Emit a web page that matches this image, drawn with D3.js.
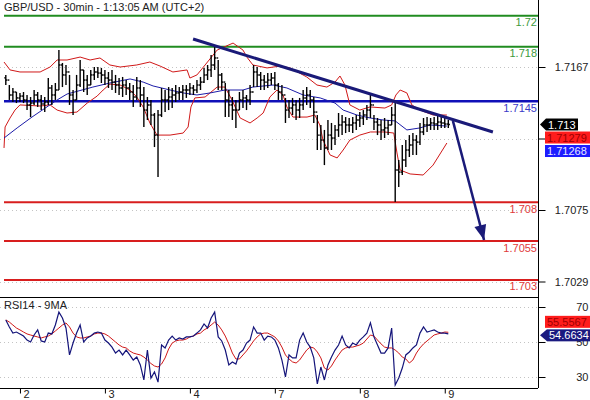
<!DOCTYPE html>
<html>
<head>
<meta charset="utf-8">
<script src="https://cdn.jsdelivr.net/npm/d3@7"></script>
<style>
body { margin: 0; background: #fff; }
text { font-family: "Liberation Sans", Arial, sans-serif; font-size: 11px; }
</style>
</head>
<body>
<div id="chart"></div>
<script>
// GBP/USD 30min bars
const highs = [1.71619,1.71554,1.71535,1.71509,1.71503,1.71509,1.71490,1.71477,1.71522,1.71509,
1.71490,1.71477,1.71599,1.71554,1.71567,1.71779,1.71696,1.71683,1.71619,1.71522,
1.71619,1.71715,1.71651,1.71619,1.71651,1.71670,1.71670,1.71664,1.71651,1.71638,
1.71651,1.71619,1.71599,1.71606,1.71586,1.71567,1.71554,1.71606,1.71586,1.71541,
1.71477,1.71458,1.71374,1.71393,1.71535,1.71522,1.71541,1.71535,1.71554,1.71541,
1.71554,1.71554,1.71567,1.71554,1.71586,1.71606,1.71664,1.71683,1.71747,1.71799,
1.71715,1.71631,1.71567,1.71522,1.71477,1.71458,1.71509,1.71522,1.71490,1.71554,
1.71683,1.71670,1.71638,1.71619,1.71631,1.71631,1.71638,1.71567,1.71554,1.71471,
1.71458,1.71471,1.71458,1.71471,1.71522,1.71541,1.71522,1.71477,1.71361,1.71297,
1.71265,1.71329,1.71310,1.71297,1.71374,1.71361,1.71348,1.71342,1.71348,1.71361,
1.71380,1.71393,1.71426,1.71490,1.71361,1.71342,1.71329,1.71342,1.71329,1.71413,
1.71445,1.71072,1.71168,1.71200,1.71232,1.71245,1.71232,1.71310,1.71342,1.71348,
1.71342,1.71348,1.71361,1.71348,1.71342,1.71329];
const lows = [1.71554,1.71458,1.71445,1.71438,1.71445,1.71438,1.71393,1.71348,1.71426,1.71413,
1.71393,1.71380,1.71426,1.71426,1.71458,1.71522,1.71541,1.71554,1.71426,1.71361,
1.71458,1.71541,1.71509,1.71490,1.71554,1.71586,1.71599,1.71567,1.71554,1.71535,
1.71522,1.71503,1.71490,1.71477,1.71490,1.71458,1.71413,1.71458,1.71413,1.71284,
1.71329,1.71297,1.71155,1.70962,1.71348,1.71380,1.71393,1.71406,1.71445,1.71458,
1.71458,1.71471,1.71490,1.71490,1.71503,1.71522,1.71567,1.71586,1.71606,1.71651,
1.71522,1.71522,1.71348,1.71348,1.71329,1.71278,1.71393,1.71406,1.71393,1.71426,
1.71541,1.71541,1.71522,1.71522,1.71535,1.71554,1.71522,1.71458,1.71458,1.71310,
1.71342,1.71361,1.71329,1.71342,1.71393,1.71426,1.71406,1.71310,1.71136,1.71136,
1.71039,1.71136,1.71136,1.71168,1.71220,1.71232,1.71245,1.71252,1.71245,1.71265,
1.71284,1.71297,1.71329,1.71342,1.71265,1.71232,1.71200,1.71213,1.71232,1.71297,
1.70801,1.70898,1.70975,1.71027,1.71091,1.71104,1.71104,1.71168,1.71232,1.71252,
1.71265,1.71265,1.71265,1.71278,1.71278,1.71278];
const closes = [1.71586,1.71490,1.71509,1.71471,1.71483,1.71458,1.71426,1.71438,1.71490,1.71458,
1.71432,1.71445,1.71535,1.71490,1.71522,1.71683,1.71619,1.71638,1.71490,1.71458,
1.71554,1.71651,1.71586,1.71554,1.71619,1.71638,1.71631,1.71619,1.71599,1.71586,
1.71573,1.71554,1.71535,1.71554,1.71535,1.71509,1.71477,1.71535,1.71490,1.71393,
1.71426,1.71361,1.71232,1.71361,1.71458,1.71458,1.71477,1.71490,1.71503,1.71509,
1.71522,1.71522,1.71535,1.71522,1.71554,1.71573,1.71619,1.71651,1.71683,1.71728,
1.71619,1.71573,1.71458,1.71426,1.71393,1.71393,1.71458,1.71471,1.71458,1.71509,
1.71638,1.71619,1.71586,1.71573,1.71586,1.71599,1.71554,1.71509,1.71490,1.71393,
1.71406,1.71426,1.71393,1.71426,1.71471,1.71490,1.71458,1.71380,1.71232,1.71200,
1.71149,1.71232,1.71213,1.71265,1.71297,1.71316,1.71297,1.71297,1.71310,1.71329,
1.71342,1.71361,1.71393,1.71426,1.71316,1.71297,1.71265,1.71278,1.71297,1.71361,
1.71007,1.70994,1.71072,1.71136,1.71168,1.71200,1.71187,1.71252,1.71297,1.71297,
1.71310,1.71303,1.71316,1.71310,1.71303,1.71300];
const firstOpen = 1.71600;

// bollinger bands and moving average, as [bar index, price] knots
const bandUpper = [[-0.5,1.71702],[1.2,1.71651],[4,1.71638],[9.7,1.71638],[12.5,1.7167],[14.5,1.71715],
[17.3,1.71715],[21,1.71734],[23.8,1.71715],[26.6,1.71728],[29.4,1.71683],[32.3,1.7167],[37,1.71683],
[40.7,1.71702],[43.6,1.71676],[47.2,1.71638],[51.2,1.71651],[52,1.71599],[54,1.71619],[56.3,1.71683],
[59.7,1.71779],[64.2,1.71824],[67,1.71779],[68.1,1.71734],[69.8,1.71683],[73.8,1.71664],[77.5,1.71676],
[80.3,1.71664],[85,1.71606],[87.9,1.71554],[90.7,1.71541],[93,1.71573],[94.4,1.71612],[95.8,1.71554],
[97.2,1.71426],[100,1.71393],[102.9,1.71413],[107.1,1.71406],[109,1.71426],[110.2,1.7149],[111.4,1.71522],
[113.3,1.71503],[114.7,1.71426],[117,1.71393],[120.7,1.71361],[124.6,1.71361]];
const bandLower = [[-0.5,1.71149],[-0.2,1.71284],[1.2,1.71342],[2.6,1.71393],[4,1.71426],[9.7,1.71419],
[12.5,1.71426],[14.5,1.71393],[17.3,1.71374],[20.1,1.7138],[23,1.71438],[25.8,1.71483],[27.5,1.71522],
[29.4,1.7156],[32.3,1.71554],[35.1,1.71522],[37,1.71477],[38.8,1.71413],[40.7,1.7131],[42.7,1.71232],
[46.4,1.71232],[50.1,1.71245],[51.5,1.71284],[52.3,1.71413],[53.4,1.71471],[56.3,1.71477],[59.7,1.71541],
[61.9,1.71541],[63.9,1.71458],[66.2,1.71342],[69,1.7131],[71,1.71342],[72.7,1.71374],[74.6,1.71477],
[76.6,1.71522],[78.3,1.7149],[79.4,1.71413],[81.1,1.71348],[85.1,1.71348],[87.3,1.71361],[88.7,1.71297],
[89.6,1.712],[91.6,1.71104],[93.6,1.71085],[95.3,1.71136],[97.2,1.712],[100,1.71232],[103,1.71252],
[107,1.71252],[109.6,1.71245],[110.5,1.71117],[111.4,1.71007],[114.2,1.70982],[117.9,1.70975],
[120.7,1.71039],[124.6,1.71181]];
const maLine = [[-0.5,1.71213],[3.2,1.71278],[7.4,1.71348],[14.5,1.71458],[17.3,1.71496],[24.6,1.71541],
[29.4,1.71567],[35.1,1.71593],[38.8,1.71573],[41.6,1.71548],[46.4,1.71522],[50.1,1.71503],[54,1.7149],
[57.7,1.71503],[61.9,1.71522],[67,1.71522],[69.8,1.71541],[75.5,1.71554],[79.4,1.71535],[84,1.7149],
[88.8,1.71471],[93,1.71438],[95.3,1.71393],[99.2,1.71361],[102.9,1.71342],[106.6,1.71329],[110,1.71323],
[113.3,1.71265],[117,1.71278],[119.8,1.71297],[124.6,1.71290]];

// RSI(14) and its 9 period average, one value per bar
const rsi = [62.6,58.6,55.1,55.7,54.6,53.4,51.1,50.0,54.0,56.9,
50.6,50.0,55.1,54.6,59.7,67.1,63.7,58.0,42.6,49.4,
55.1,59.7,50.0,52.3,53.4,55.1,55.7,55.1,51.1,49.4,
47.1,43.7,45.4,42.6,45.4,42.6,39.7,41.4,36.9,28.3,
45.4,29.4,32.9,27.1,48.3,46.6,51.1,53.4,51.1,52.3,
51.7,52.9,52.9,53.4,55.1,56.9,60.3,58.0,63.7,67.1,
52.9,50.6,45.4,36.9,38.6,37.4,43.7,45.4,49.4,51.1,
58.6,55.1,55.1,51.1,53.4,52.9,51.1,46.6,39.7,30.0,
42.6,40.9,40.9,51.1,55.1,50.0,47.1,40.9,26.0,35.7,
28.3,36.9,41.4,45.4,48.3,53.4,48.3,46.6,49.4,48.3,
51.1,52.9,55.1,60.9,52.9,48.3,43.7,43.7,46.6,58.0,
25.4,29.4,35.1,42.6,44.3,46.6,48.3,55.1,58.6,55.7,
56.3,56.9,55.7,55.1,55.1,54.6634];
const rsiMa = [62.6,61.4,59.7,58.0,56.9,55.7,54.6,54.0,53.4,52.9,
52.3,52.9,53.4,54.6,56.3,58.0,59.7,60.9,58.6,55.1,
52.9,52.3,52.3,52.9,53.4,54.6,55.1,55.1,54.6,53.4,
51.7,50.0,48.3,47.1,46.6,44.9,43.7,43.1,42.6,41.4,
39.7,37.7,36.3,35.7,37.4,40.9,46.0,49.4,50.6,51.1,
51.1,51.7,52.9,53.4,54.6,55.1,56.9,58.0,59.7,61.4,
59.7,56.9,53.4,48.9,43.7,40.3,40.3,42.6,44.9,47.7,
50.6,52.9,54.6,55.1,55.1,54.0,52.9,50.6,47.1,42.6,
40.3,38.6,38.0,39.7,42.6,45.4,47.1,46.6,44.3,40.9,
35.1,34.0,36.3,39.7,42.6,45.4,46.6,47.1,47.1,47.7,
48.3,49.4,51.7,54.0,53.4,51.1,48.9,47.1,46.6,46.6,
45.4,43.7,41.4,40.3,38.0,39.7,43.7,46.6,48.9,50.6,
52.3,54.0,54.6,55.1,55.7,55.5567];

// levels and annotations
const levels = [1.72, 1.718, 1.7145, 1.708, 1.7055, 1.703];
const levelLabels = ["1.72", "1.718", "1.7145", "1.708", "1.7055", "1.703"];
const levelKinds = ["res", "res", "piv", "sup", "sup", "sup"];
const trendLine = [[52.9, 1.7185], [137.6, 1.71252]];
const arrowLine = [[126.3, 1.71323], [135.1, 1.70557]];

const priceTicks = [1.7167, 1.7121, 1.7075, 1.7029];
const priceTickLabels = ["1.7167", "", "1.7075", "1.7029"]; // 1.7121 sits under the value tags
const rsiTicks = [70, 50, 30];
const dayTicks = [4, 28, 52, 76, 100, 124];
const dayLabels = ["2", "3", "4", "7", "8", "9"];
const priceTags = [1.713, 1.71279, 1.71268];
const priceTagText = ["1.713", "1.71279", "1.71268"];
const rsiTags = [54.6634, 55.5567];
const rsiTagText = ["54.6634", "55.5567"];

const width = 590, height = 400;
const right = 538, split = 297, bottom = 388;
const kindColor = {res: "#208c20", piv: "#1010b8", sup: "#d81e1e"};
const kindText = {res: "#3c9a3c", piv: "#3a3ac8", sup: "#e03a3a"};

const x = d3.scaleLinear().domain([0, 125]).range([5.8, 448.3]);
const y = d3.scaleLinear().domain([1.7167, 1.7029]).range([67, 281.5]);
const yr = d3.scaleLinear().domain([70, 30]).range([307, 377]);

const svg = d3.select("#chart").append("svg")
    .attr("width", width)
    .attr("height", height);

svg.append("rect").attr("width", width).attr("height", height).attr("fill", "#fff");

const defs = svg.append("defs");
defs.append("clipPath").attr("id", "clipMain")
    .append("rect").attr("x", 0).attr("y", 0).attr("width", right).attr("height", split);
defs.append("clipPath").attr("id", "clipRsi")
    .append("rect").attr("x", 0).attr("y", split).attr("width", right).attr("height", bottom - split);

// dotted grid
const grid = svg.append("g").attr("stroke", "#c4c4c4").attr("stroke-dasharray", "1,3");
grid.selectAll(".gp").data(priceTicks).enter().append("line")
    .attr("x1", 0).attr("x2", right)
    .attr("y1", d => Math.round(y(d)) + 0.5).attr("y2", d => Math.round(y(d)) + 0.5);
grid.selectAll(".gr").data(rsiTicks).enter().append("line")
    .attr("x1", 0).attr("x2", right)
    .attr("y1", d => Math.round(yr(d)) + 0.5).attr("y2", d => Math.round(yr(d)) + 0.5);

const main = svg.append("g").attr("clip-path", "url(#clipMain)");

// horizontal levels
main.selectAll(".level").data(levels).enter().append("line")
    .attr("x1", 4).attr("x2", right)
    .attr("y1", d => y(d)).attr("y2", d => y(d))
    .attr("stroke", (d, i) => kindColor[levelKinds[i]])
    .attr("stroke-width", (d, i) => levelKinds[i] === "piv" ? 2.5 : 2);

main.selectAll(".levelLabel").data(levels).enter().append("text")
    .attr("x", right - 1).attr("y", d => y(d) + 10.5)
    .attr("text-anchor", "end")
    .attr("fill", (d, i) => kindText[levelKinds[i]])
    .text((d, i) => levelLabels[i]);

// bands
const knotLine = d3.line().x(d => x(d[0])).y(d => y(d[1]));
main.append("path").datum(bandUpper).attr("d", knotLine)
    .attr("fill", "none").attr("stroke", "#d01818").attr("stroke-width", 1);
main.append("path").datum(bandLower).attr("d", knotLine)
    .attr("fill", "none").attr("stroke", "#d01818").attr("stroke-width", 1);
main.append("path").datum(maLine).attr("d", knotLine)
    .attr("fill", "none").attr("stroke", "#1c1ca8").attr("stroke-width", 1);

// OHLC bars
const bars = main.append("g").attr("stroke", "#000").attr("stroke-width", 1.4);
closes.forEach(function (c, i) {
    const o = i === 0 ? firstOpen : closes[i - 1];
    const cx = x(i);
    bars.append("line").attr("x1", cx).attr("x2", cx).attr("y1", y(highs[i])).attr("y2", y(lows[i]));
    bars.append("line").attr("x1", cx - 1.6).attr("x2", cx).attr("y1", y(o)).attr("y2", y(o));
    bars.append("line").attr("x1", cx).attr("x2", cx + 1.6).attr("y1", y(c)).attr("y2", y(c));
});

// trend line and arrow
main.append("path").datum(trendLine).attr("d", knotLine)
    .attr("stroke", "#1a1a78").attr("stroke-width", 3).attr("fill", "none");
main.append("path").datum(arrowLine).attr("d", knotLine)
    .attr("stroke", "#1a1a78").attr("stroke-width", 2.5).attr("fill", "none");
const a0 = [x(arrowLine[0][0]), y(arrowLine[0][1])];
const a1 = [x(arrowLine[1][0]), y(arrowLine[1][1])];
const ang = Math.atan2(a1[1] - a0[1], a1[0] - a0[0]);
const headLen = 15, headW = 6;
const hb = [a1[0] - headLen * Math.cos(ang), a1[1] - headLen * Math.sin(ang)];
main.append("polygon")
    .attr("points", [
        a1,
        [hb[0] + headW * Math.sin(ang), hb[1] - headW * Math.cos(ang)],
        [hb[0] - headW * Math.sin(ang), hb[1] + headW * Math.cos(ang)]
    ].map(p => p.join(",")).join(" "))
    .attr("fill", "#1a1a78");

// RSI panel
const rsiG = svg.append("g").attr("clip-path", "url(#clipRsi)");
const rsiLine = d3.line().x((d, i) => x(i)).y(d => yr(d));
rsiG.append("path").datum(rsiMa).attr("d", rsiLine)
    .attr("fill", "none").attr("stroke", "#d01818").attr("stroke-width", 1);
rsiG.append("path").datum(rsi).attr("d", rsiLine)
    .attr("fill", "none").attr("stroke", "#14147a").attr("stroke-width", 1.2);

// frame
const frame = svg.append("g").attr("stroke", "#000").attr("stroke-width", 1);
frame.append("line").attr("x1", right + 0.5).attr("x2", right + 0.5).attr("y1", 0).attr("y2", bottom);
frame.append("line").attr("x1", 0).attr("x2", right).attr("y1", split + 0.5).attr("y2", split + 0.5);
frame.append("line").attr("x1", 0).attr("x2", right).attr("y1", bottom + 0.5).attr("y2", bottom + 0.5);

// axes
const yAxis = svg.append("g").attr("transform", "translate(" + (right + 0.5) + ",0)")
    .call(d3.axisRight(y).tickValues(priceTicks).tickSize(7).tickFormat((d, i) => priceTickLabels[i]));
const rAxis = svg.append("g").attr("transform", "translate(" + (right + 0.5) + ",0)")
    .call(d3.axisRight(yr).tickValues(rsiTicks).tickSize(7));
[yAxis, rAxis].forEach(function (g) {
    g.select(".domain").remove();
    g.selectAll("text").attr("x", 50).attr("text-anchor", "end")
        .attr("fill", "#222").style("font-size", "11px").style("font-family", "Liberation Sans, Arial, sans-serif");
});

const xAxis = svg.append("g").attr("transform", "translate(0," + (bottom + 0.5) + ")")
    .call(d3.axisBottom(x).tickValues(dayTicks).tickSize(5).tickFormat((d, i) => dayLabels[i]));
xAxis.select(".domain").remove();
xAxis.selectAll("text").attr("x", 3).attr("y", 2).attr("text-anchor", "start")
    .attr("fill", "#222").style("font-size", "11px").style("font-family", "Liberation Sans, Arial, sans-serif");

// value tags
function tag(yc, label, fill, color, arrow, x0) {
    const g = svg.append("g");
    const h = 12;
    if (arrow) {
        g.append("polygon")
            .attr("points", [[right + 2, yc], [x0, yc - h / 2], [x0, yc + h / 2]].map(p => p.join(",")).join(" "))
            .attr("fill", fill);
    }
    g.append("rect").attr("x", x0).attr("y", yc - h / 2).attr("width", arrow && label.length < 6 ? 32 : width - x0)
        .attr("height", h).attr("fill", fill);
    g.append("text").attr("x", x0 + 2).attr("y", yc + 4).attr("fill", color).text(label);
}
let ty = y(priceTags[0]);
tag(ty, priceTagText[0], "#000", "#fff", true, 546);
ty = Math.max(y(priceTags[1]), ty + 13);
tag(ty, priceTagText[1], "#ff1c1c", "#a00000", false, 545);
ty = Math.max(y(priceTags[2]), ty + 13.5);
tag(ty, priceTagText[2], "#1c1cff", "#e8e8ff", false, 545);

const ry = yr(rsiTags[0]) + 1.5;
tag(ry, rsiTagText[0], "#1a1a80", "#fff", true, 547);
tag(ry - 13.5, rsiTagText[1], "#ff1c1c", "#a00000", false, 545);

// titles
svg.append("text").attr("x", 4).attr("y", 11).attr("fill", "#222")
    .text("GBP/USD - 30min - 1:13:05 AM (UTC+2)");
svg.append("text").attr("x", 4).attr("y", 308.5).attr("fill", "#222")
    .text("RSI14 - 9MA");
</script>
</body>
</html>
